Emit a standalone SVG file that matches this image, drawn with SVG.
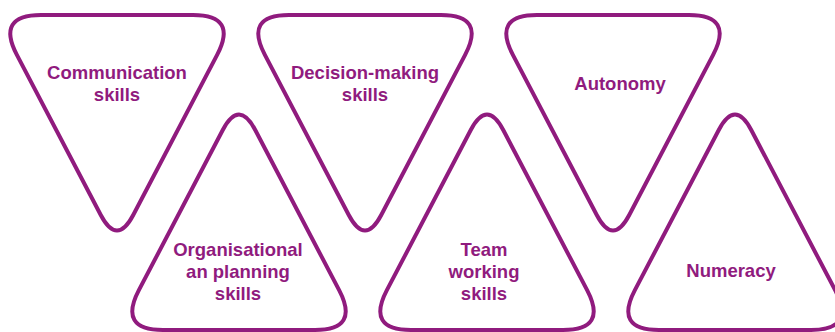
<svg xmlns="http://www.w3.org/2000/svg" xmlns:xlink="http://www.w3.org/1999/xlink" width="835" height="332" viewBox="0 0 835 332">
  <style>
    .tri { fill: #ffffff; stroke: #901B7E; stroke-width: 4; stroke-linejoin: round; }
    .lbl { font-family: "Liberation Sans", Arial, sans-serif; font-weight: bold; font-size: 18.5px; fill: #901B7E; text-anchor: middle; }
  </style>
  <defs>
    <path id="down" d="M -76,15 L 76,15 Q 121,15 100.12,54.86 L 16.24,215 Q 0,246 -16.24,215 L -100.12,54.86 Q -121,15 -76,15 Z"/>
    <path id="up" d="M -76,330 L 76,330 Q 121,330 100.12,290.14 L 16.24,130 Q 0,99 -16.24,130 L -100.12,290.14 Q -121,330 -76,330 Z"/>
  </defs>
  <rect width="835" height="332" fill="#ffffff"/>
  <g id="communication">
    <use xlink:href="#down" href="#down" class="tri" transform="translate(117,0)"/>
    <text class="lbl" x="117" y="79">Communication</text>
    <text class="lbl" x="117" y="101">skills</text>
  </g>
  <g id="decision-making">
    <use xlink:href="#down" href="#down" class="tri" transform="translate(365,0)"/>
    <text class="lbl" x="365" y="79">Decision-making</text>
    <text class="lbl" x="365" y="101">skills</text>
  </g>
  <g id="autonomy">
    <use xlink:href="#down" href="#down" class="tri" transform="translate(613,0)"/>
    <text class="lbl" x="620" y="90">Autonomy</text>
  </g>
  <g id="organisational">
    <use xlink:href="#up" href="#up" class="tri" transform="translate(239,0)"/>
    <text class="lbl" x="238" y="256">Organisational</text>
    <text class="lbl" x="238" y="278">an planning</text>
    <text class="lbl" x="238" y="300">skills</text>
  </g>
  <g id="team-working">
    <use xlink:href="#up" href="#up" class="tri" transform="translate(487,0)"/>
    <text class="lbl" x="484" y="256">Team</text>
    <text class="lbl" x="484" y="278">working</text>
    <text class="lbl" x="484" y="300">skills</text>
  </g>
  <g id="numeracy">
    <use xlink:href="#up" href="#up" class="tri" transform="translate(735,0)"/>
    <text class="lbl" x="731" y="277">Numeracy</text>
  </g>
  <g id="connectors"/>
</svg>
